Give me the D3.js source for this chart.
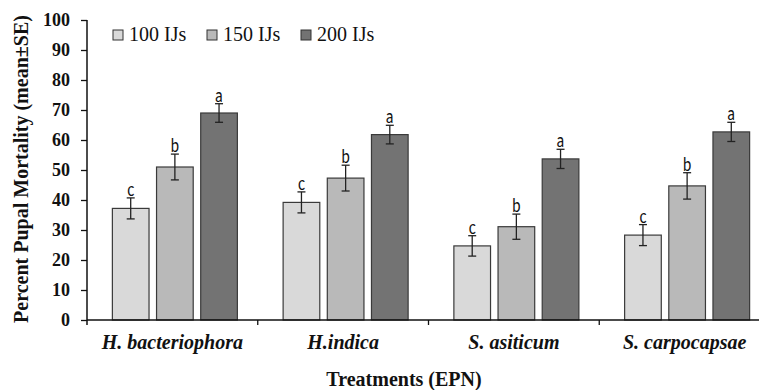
<!DOCTYPE html>
<html>
<head>
<meta charset="utf-8">
<script src="https://cdn.jsdelivr.net/npm/d3@7"></script>
<style>
    body { margin: 0; background: #fff; }
    svg { display: block; }
</style>
</head>
<body>
<div id="container"></div>
<script>
const w = 759, h = 390;
const margin = { top: 20, right: -11, bottom: 70, left: 87 };

// data
const treatments = ['H. bacteriophora', 'H.indica', 'S. asiticum', 'S. carpocapsae'];
const doses = ['100 IJs', '150 IJs', '200 IJs'];
const mort100 = [37.2, 39.2, 24.7, 28.3];
const mort150 = [51.0, 47.3, 31.1, 44.7];
const mort200 = [69.0, 61.8, 53.7, 62.7];
const se100 = [3.5, 3.5, 3.4, 3.5];
const se150 = [4.3, 4.3, 4.2, 4.4];
const se200 = [3.1, 3.1, 3.2, 3.2];
const letters100 = ['c', 'c', 'c', 'c'];
const letters150 = ['b', 'b', 'b', 'b'];
const letters200 = ['a', 'a', 'a', 'a'];
const yTicks = [0, 10, 20, 30, 40, 50, 60, 70, 80, 90, 100];
const colors = ['#d9d9d9', '#b9b9b9', '#737373'];

const means = [mort100, mort150, mort200];
const ses = [se100, se150, se200];
const letters = [letters100, letters150, letters200];

const rows = [];
treatments.forEach((t, i) => {
    doses.forEach((d, j) => {
        rows.push({ t: t, d: d, j: j, v: means[j][i], se: ses[j][i], l: letters[j][i] });
    });
});

const svg = d3.select('#container').append('svg')
    .attr('width', w).attr('height', h);

// scales
const xScale = d3.scaleBand().domain(treatments)
    .range([margin.left, w - margin.right]);
const xInner = d3.scaleBand().domain(doses)
    .range([xScale.bandwidth() / 2 - 60, xScale.bandwidth() / 2 + 65])
    .paddingInner(0.17);
const yScale = d3.scaleLinear().domain([0, 100])
    .range([h - margin.bottom, margin.top]);

// bars
svg.append('g').selectAll('rect')
    .data(rows)
    .enter()
    .append('rect')
    .attr('x', d => xScale(d.t) + xInner(d.d))
    .attr('y', d => yScale(d.v))
    .attr('width', xInner.bandwidth())
    .attr('height', d => yScale(0) - yScale(d.v))
    .attr('fill', d => colors[d.j])
    .attr('stroke', '#3a3a3a')
    .attr('stroke-width', 1.2);

// error bars
const err = svg.append('g').attr('stroke', '#222').attr('stroke-width', 1.3);
rows.forEach(d => {
    const cx = xScale(d.t) + xInner(d.d) + xInner.bandwidth() / 2;
    const y1 = yScale(d.v + d.se), y2 = yScale(d.v - d.se);
    err.append('line').attr('x1', cx).attr('x2', cx).attr('y1', y1).attr('y2', y2);
    err.append('line').attr('x1', cx - 4).attr('x2', cx + 4).attr('y1', y1).attr('y2', y1);
    err.append('line').attr('x1', cx - 4).attr('x2', cx + 4).attr('y1', y2).attr('y2', y2);
});

// letters (narrow sans, like the original)
svg.append('g').selectAll('text')
    .data(rows)
    .enter()
    .append('text')
    .attr('transform', d => 'translate(' + (xScale(d.t) + xInner(d.d) + xInner.bandwidth() / 2) + ',' + (yScale(d.v + d.se) - 2) + ') scale(0.78,1)')
    .attr('text-anchor', 'middle')
    .style('font-family', 'Lato, "Open Sans", sans-serif')
    .style('font-size', '19px')
    .attr('fill', '#111')
    .text(d => d.l);

// y axis
const yAxis = d3.axisLeft(yScale).tickValues(yTicks).tickSize(6).tickPadding(11);
const gy = svg.append('g')
    .attr('transform', 'translate(' + margin.left + ',0)')
    .call(yAxis);
gy.select('.domain').attr('d', 'M0,' + yScale(100) + 'V' + (yScale(0) + 5))
    .attr('stroke', '#111').attr('stroke-width', 1.5);
gy.selectAll('.tick line').attr('stroke', '#111').attr('stroke-width', 1.3);
gy.selectAll('.tick text')
    .style('font-family', '"Liberation Serif", "Times New Roman", serif')
    .style('font-weight', 'bold')
    .style('font-size', '18px')
    .attr('fill', '#111');

// x axis
const xAxis = d3.axisBottom(xScale).tickSize(0).tickPadding(15);
const gx = svg.append('g')
    .attr('transform', 'translate(0,' + yScale(0) + ')')
    .call(xAxis);
gx.select('.domain').attr('d', 'M' + margin.left + ',0H' + w)
    .attr('stroke', '#111').attr('stroke-width', 1.5);
gx.selectAll('.tick text')
    .style('font-family', '"Liberation Serif", "Times New Roman", serif')
    .style('font-weight', 'bold')
    .style('font-style', 'italic')
    .style('font-size', '20px')
    .attr('fill', '#111');
// separators between groups
gx.append('g').selectAll('line')
    .data(treatments.slice(1))
    .enter()
    .append('line')
    .attr('x1', d => xScale(d)).attr('x2', d => xScale(d))
    .attr('y1', 0).attr('y2', 5)
    .attr('stroke', '#111').attr('stroke-width', 1.3);

// axis titles
svg.append('text')
    .attr('x', 404).attr('y', 386)
    .attr('text-anchor', 'middle')
    .style('font-family', '"Liberation Serif", "Times New Roman", serif')
    .style('font-weight', 'bold')
    .style('font-size', '20px')
    .attr('fill', '#111')
    .text('Treatments (EPN)');

svg.append('text')
    .attr('transform', 'translate(28,169) rotate(-90)')
    .attr('text-anchor', 'middle')
    .style('font-family', '"Liberation Serif", "Times New Roman", serif')
    .style('font-weight', 'bold')
    .style('font-size', '20px')
    .attr('fill', '#111')
    .text('Percent Pupal Mortality (mean±SE)');

// legend
const legend = svg.append('g').attr('id', 'legend');
const lx = [113, 207, 301];
doses.forEach((d, i) => {
    legend.append('rect')
        .attr('x', lx[i]).attr('y', 30)
        .attr('width', 10).attr('height', 10)
        .attr('fill', colors[i])
        .attr('stroke', '#333').attr('stroke-width', 1);
    legend.append('text')
        .attr('x', lx[i] + 16).attr('y', 41)
        .style('font-family', '"Liberation Serif", "Times New Roman", serif')
        .style('font-size', '20px')
        .attr('fill', '#111')
        .text(d);
});
</script>
</body>
</html>
